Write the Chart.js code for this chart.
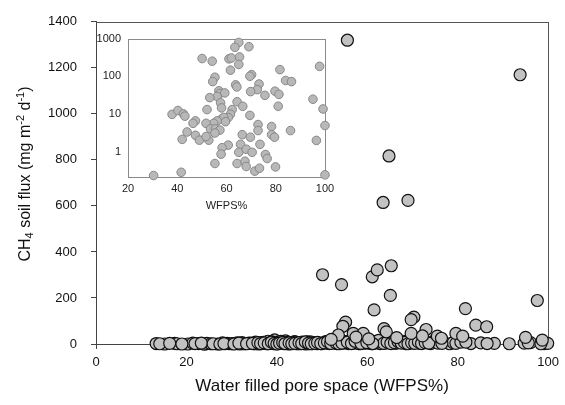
<!DOCTYPE html>
<html><head><meta charset="utf-8">
<script src="https://cdn.jsdelivr.net/npm/chart.js@4"></script>
<style>
html,body{margin:0;padding:0;background:#fff;}
#wrap{position:relative;width:565px;height:405px;overflow:hidden;}
#main{position:absolute;left:0;top:0;}
#inset{position:absolute;left:80px;top:25px;}
</style></head><body>
<div id="wrap"><canvas id="main" width="565" height="405"></canvas><canvas id="inset" width="260" height="195"></canvas></div>
<script>
// ---- Main panel: CH4 soil flux vs WFPS (points visibly above the baseline)
const highWFPS = [55.6, 93.8, 64.8, 63.5, 69.0, 50.1, 54.3, 61.1, 62.2, 65.3, 65.1, 61.5, 97.6, 81.7, 55.2, 54.6, 70.3, 69.7, 63.7, 64.2, 56.9, 59.1, 53.6, 73.0, 69.7, 84.0, 86.4, 75.5, 79.6, 81.1, 95.0, 98.7, 57.5, 60.3, 72.2, 76.4, 66.5, 52.0];
const highFlux = [1320, 1170, 817, 615, 624, 301, 258, 292, 322, 340, 211, 148, 189, 154, 95, 77, 117, 106, 67, 53, 46, 46, 39, 63, 46, 82, 75, 34, 46, 34, 29, 17, 30, 22, 35, 25, 28, 20];
// ---- Main panel: points lying on the baseline (near-zero flux)
const baseWFPS = [13.3, 15.2, 17.4, 17.9, 20.3, 21.4, 22.7, 24.0, 24.5, 25.4,
  26.9, 28.0, 28.6, 29.5, 30.8, 31.8, 32.3, 33.0, 33.8, 34.9,
  35.3, 35.6, 35.9, 36.2, 36.6, 37.0, 37.4, 37.8, 38.0, 38.3,
  38.6, 39.2, 39.5, 39.9, 40.1, 40.4, 40.7, 41.1, 41.5, 41.9,
  42.2, 42.6, 43.2, 43.5, 43.9, 44.3, 44.8, 45.0, 45.6, 46.1,
  46.4, 46.9, 47.4, 47.8, 48.2, 48.9, 49.5, 50.3, 50.8, 51.6,
  52.3, 52.9, 53.5, 54.2, 55.0, 55.8, 56.3, 57.1, 57.8, 58.4,
  59.3, 60.0, 60.6, 61.4, 62.1, 62.8, 63.2, 64.0, 64.9, 65.6,
  66.3, 67.2, 67.9, 68.5, 69.3, 70.1, 70.8, 71.6, 72.3, 73.1,
  74.0, 74.8, 75.6, 78.2, 79.0, 79.6, 80.7, 82.9, 85.1, 88.1,
  91.4, 94.7, 96.1, 99.1, 99.9];
const baseFlux = [2, 0, 3, 1, 0, 4, 2, -1, 3, 1,
  0, 5, 2, 1, 3, 0, 6, 2, 4, 1,
  8, 3, 0, 5, 2, 7, 4, 1, 12, 3,
  6, 2, 18, 5, 1, 9, 3, 7, 2, 14,
  4, 0, 6, 3, 10, 2, 5, 1, 8, 3,
  0, 4, 9, 2, 6, 1, 3, 5, 10, 2,
  7, 14, 3, 18, 6, 2, 12, 4, 9, 1,
  5, 8, 3, 11, 6, 2, 15, 4, 9, 20,
  3, 7, 12, 2, 9, 5, 15, 3, 10, 6,
  2, 14, 4, 1, 6, 3, 8, 2, 5, 3,
  1, 4, 6, 2, 3];
const baseWFPS2 = [14.1, 16.3, 19.0, 21.9, 23.3, 25.9, 27.4, 29.0, 30.1, 31.3,
  32.7, 34.3, 35.0, 36.9, 37.6, 38.9, 39.6, 40.3, 40.9, 41.7,
  42.4, 42.9, 43.7, 44.1, 44.6, 45.3, 45.8, 46.7, 47.1, 48.5,
  49.2, 49.9, 50.6, 51.3, 52.0, 52.6, 53.2, 53.9, 54.6, 55.4,
  56.0, 56.8, 57.5, 58.1, 58.8, 59.6, 60.3, 61.0, 61.8, 62.5,
  63.6, 64.4, 65.2, 66.0, 66.8, 67.5, 68.2, 69.0, 69.8, 70.5,
  71.3, 72.0, 72.8, 73.6, 76.5, 81.8, 86.5, 95.6, 98.4];
const baseFlux2 = [1, 3, 0, 2, 4, 1, 0, 3, 2, 5,
  1, 4, 2, 6, 3, 9, 2, 5, 11, 3,
  7, 2, 4, 8, 1, 6, 3, 9, 2, 5,
  4, 1, 7, 3, 12, 5, 2, 8, 4, 10,
  3, 6, 13, 2, 7, 4, 9, 1, 5, 16,
  3, 8, 2, 6, 11, 4, 7, 1, 5, 3,
  9, 2, 6, 4, 3, 8, 2, 5, 1];
const baseWFPS3 = [28.3, 30.5, 31.6, 33.3, 34.6, 35.8, 36.4, 37.2, 38.1, 38.8,
  39.4, 40.0, 40.6, 41.3, 41.8, 42.7, 43.3, 44.0, 44.9, 45.5,
  46.3, 47.0, 47.6, 48.4, 49.0, 49.7, 50.5, 51.2, 51.9, 53.0,
  53.7, 54.4, 55.6, 56.5, 57.3, 58.6, 59.9, 61.2];
const baseFlux3 = [2, 0, 4, 1, 3, 6, 2, 5, 1, 8,
  3, 0, 4, 7, 2, 5, 1, 3, 6, 2,
  9, 4, 1, 3, 7, 2, 5, 10, 3, 6,
  1, 4, 8, 2, 12, 3, 6, 2];
const mainXTicks = [0, 20, 40, 60, 80, 100];
const mainYTicks = [0, 200, 400, 600, 800, 1000, 1200, 1400];

// ---- Inset: log-scale flux vs WFPS
const insetWFPS = [50.1, 54.2, 65.0, 63.4, 69.1, 61.0, 62.0, 65.3, 65.0, 61.6,
  97.8, 81.7, 55.3, 54.4, 70.2, 69.5, 84.0, 86.4, 63.7, 64.2,
  73.2, 72.5, 69.8, 75.6, 56.9, 57.3, 59.3, 56.2, 53.2, 79.7,
  81.3, 64.3, 57.6, 58.0, 66.6, 62.3, 81.0, 52.1, 37.9, 40.3,
  42.5, 43.1, 47.4, 46.4, 69.5, 61.6, 60.7, 58.2, 58.9, 59.6,
  56.2, 54.8, 51.7, 53.5, 55.5, 57.3, 55.3, 44.0, 42.0, 47.4,
  49.0, 52.8, 51.7, 72.8, 72.8, 78.3, 86.0, 78.3, 79.5, 66.4,
  69.7, 95.1, 99.2, 100.0, 96.5, 73.6, 60.7, 58.2, 57.8, 65.7,
  65.0, 68.0, 70.4, 75.8, 76.5, 55.3, 64.3, 67.5, 68.0, 71.5,
  73.4, 79.9, 30.4, 41.6, 100.0];
const insetFlux = [295, 251, 790, 587, 610, 290, 306, 325, 206, 145,
  183, 150, 94, 72, 110, 100, 77, 72, 59, 52,
  62, 44, 39, 31, 41, 35, 36, 29, 27, 40,
  33, 21, 19.6, 14.4, 15.9, 13, 15.9, 13, 9.7, 12.3,
  10, 8.7, 6.5, 5.6, 9.1, 9.8, 8, 7.5, 8, 6.2,
  6.5, 5.6, 5.6, 4, 4, 3.7, 3.1, 3.3, 2.1, 2.7,
  2.0, 2.0, 2.5, 5.2, 3.6, 4.6, 3.6, 2.8, 2.4, 2.8,
  2.4, 24.5, 13.5, 4.9, 1.97, 1.55, 1.48, 1.26, 0.85, 1.55,
  0.95, 1.15, 0.95, 0.83, 0.65, 0.48, 0.48, 0.55, 0.40, 0.30,
  0.36, 0.39, 0.23, 0.28, 0.24];
const insetXTicks = [20, 40, 60, 80, 100];
const insetYTicks = [1, 10, 100, 1000];

const FONT = 'Arial, "Liberation Sans", Helvetica, sans-serif';
const toPts = (xs, ys) => xs.map((x, i) => ({x: x, y: ys[i]}));

const insetFrame = {
  id: 'insetFrame',
  beforeDatasetsDraw(chart) {
    const {ctx, chartArea: a} = chart;
    ctx.save();
    ctx.strokeStyle = '#8a8a8a';
    ctx.lineWidth = 1;
    ctx.strokeRect(Math.round(a.left) + 0.5, Math.round(a.top) + 0.5, Math.round(a.right - a.left), Math.round(a.bottom - a.top));
    ctx.restore();
  }
};

const yTitleParts = [['CH', 0], ['4', -1], [' soil flux (mg m', 0], ['-2', 1], [' d', 0], ['-1', 1], [')', 0]];
const mainDecor = {
  id: 'mainDecor',
  beforeDatasetsDraw(chart) {
    // top and right frame lines of the main panel
    const ctx = chart.ctx;
    const xs = chart.scales.x, ys = chart.scales.y;
    const L = Math.round(xs.getPixelForValue(0));
    const R = Math.round(xs.getPixelForValue(100));
    const T = Math.round(ys.getPixelForValue(1400));
    const B = Math.round(ys.getPixelForValue(0));
    ctx.save();
    ctx.fillStyle = '#555';
    ctx.fillRect(L, T, R - L + 1, 1);
    ctx.fillRect(R, T, 1, B - T);
    ctx.restore();
  },
  afterDraw(chart) {
    const ctx = chart.ctx;
    const big = '16px ' + FONT, small = '11px ' + FONT;
    ctx.save();
    let w = 0;
    yTitleParts.forEach(p => { ctx.font = p[1] ? small : big; w += ctx.measureText(p[0]).width; });
    ctx.translate(26, 174);
    ctx.rotate(-Math.PI / 2);
    ctx.fillStyle = '#111';
    ctx.textBaseline = 'middle';
    ctx.textAlign = 'left';
    let x = -w / 2;
    yTitleParts.forEach(p => {
      ctx.font = p[1] ? small : big;
      const dy = p[1] === -1 ? 4 : (p[1] === 1 ? -5 : 0);
      ctx.fillText(p[0], x, dy);
      x += ctx.measureText(p[0]).width;
    });
    ctx.restore();
  }
};

new Chart(document.getElementById('main'), {
  type: 'scatter',
  data: {datasets: [{
    data: toPts(baseWFPS, baseFlux).concat(toPts(baseWFPS2, baseFlux2), toPts(baseWFPS3, baseFlux3), toPts(highWFPS, highFlux)),
    backgroundColor: '#c2c2c2', borderColor: '#111', borderWidth: 1.2,
    pointRadius: 6, pointHoverRadius: 6, clip: false
  }]},
  options: {
    responsive: false, animation: false, events: [],
    layout: {padding: {left: 0, right: 14, top: 18, bottom: 0}},
    plugins: {legend: {display: false}, tooltip: {enabled: false}},
    scales: {
      x: {
        type: 'linear', min: 0, max: 100,
        afterBuildTicks: s => { s.ticks = mainXTicks.map(v => ({value: v})); },
        ticks: {color: '#111', font: {family: FONT, size: 13}, padding: 6, maxRotation: 0, callback: v => String(v)},
        grid: {drawOnChartArea: false, drawTicks: true, tickLength: 5, color: '#444'},
        border: {color: '#444'},
        title: {display: true, text: 'Water filled pore space (WFPS%)', color: '#111', font: {family: FONT, size: 17}, padding: {top: 0, bottom: 8}},
        afterFit: s => { s.height = 61; }
      },
      y: {
        type: 'linear', min: 0, max: 1400,
        afterBuildTicks: s => { s.ticks = mainYTicks.map(v => ({value: v})); },
        ticks: {color: '#111', font: {family: FONT, size: 13}, padding: 14, callback: v => String(v)},
        grid: {drawOnChartArea: false, drawTicks: true, tickLength: 5, color: '#444'},
        border: {color: '#444'},
        afterFit: s => { s.width = 96; }
      }
    }
  },
  plugins: [mainDecor]
});

new Chart(document.getElementById('inset'), {
  type: 'scatter',
  data: {datasets: [{
    data: toPts(insetWFPS, insetFlux),
    backgroundColor: '#b8b8b8', borderColor: '#878787', borderWidth: 1,
    pointRadius: 4.3, pointHoverRadius: 4.3, clip: false
  }]},
  options: {
    responsive: false, animation: false, events: [],
    layout: {padding: {left: 0, right: 15, top: 10, bottom: 0}},
    plugins: {legend: {display: false}, tooltip: {enabled: false}},
    scales: {
      x: {
        type: 'linear', min: 20, max: 100,
        afterBuildTicks: s => { s.ticks = insetXTicks.map(v => ({value: v})); },
        ticks: {color: '#222', font: {family: FONT, size: 11}, padding: 5, maxRotation: 0, callback: v => String(v)},
        grid: {display: false, drawTicks: false},
        border: {display: false},
        title: {display: true, text: 'WFPS%', color: '#222', font: {family: FONT, size: 11}, padding: {top: 0, bottom: 7}},
        afterFit: s => { s.height = 43; }
      },
      y: {
        type: 'logarithmic', min: 0.21, max: 1000,
        afterBuildTicks: s => { s.ticks = insetYTicks.map(v => ({value: v})); },
        ticks: {color: '#222', font: {family: FONT, size: 11}, padding: 7, callback: v => String(v)},
        grid: {display: false, drawTicks: false},
        border: {display: false},
        afterFit: s => { s.width = 48; }
      }
    }
  },
  plugins: [insetFrame]
});
</script>
</body></html>
